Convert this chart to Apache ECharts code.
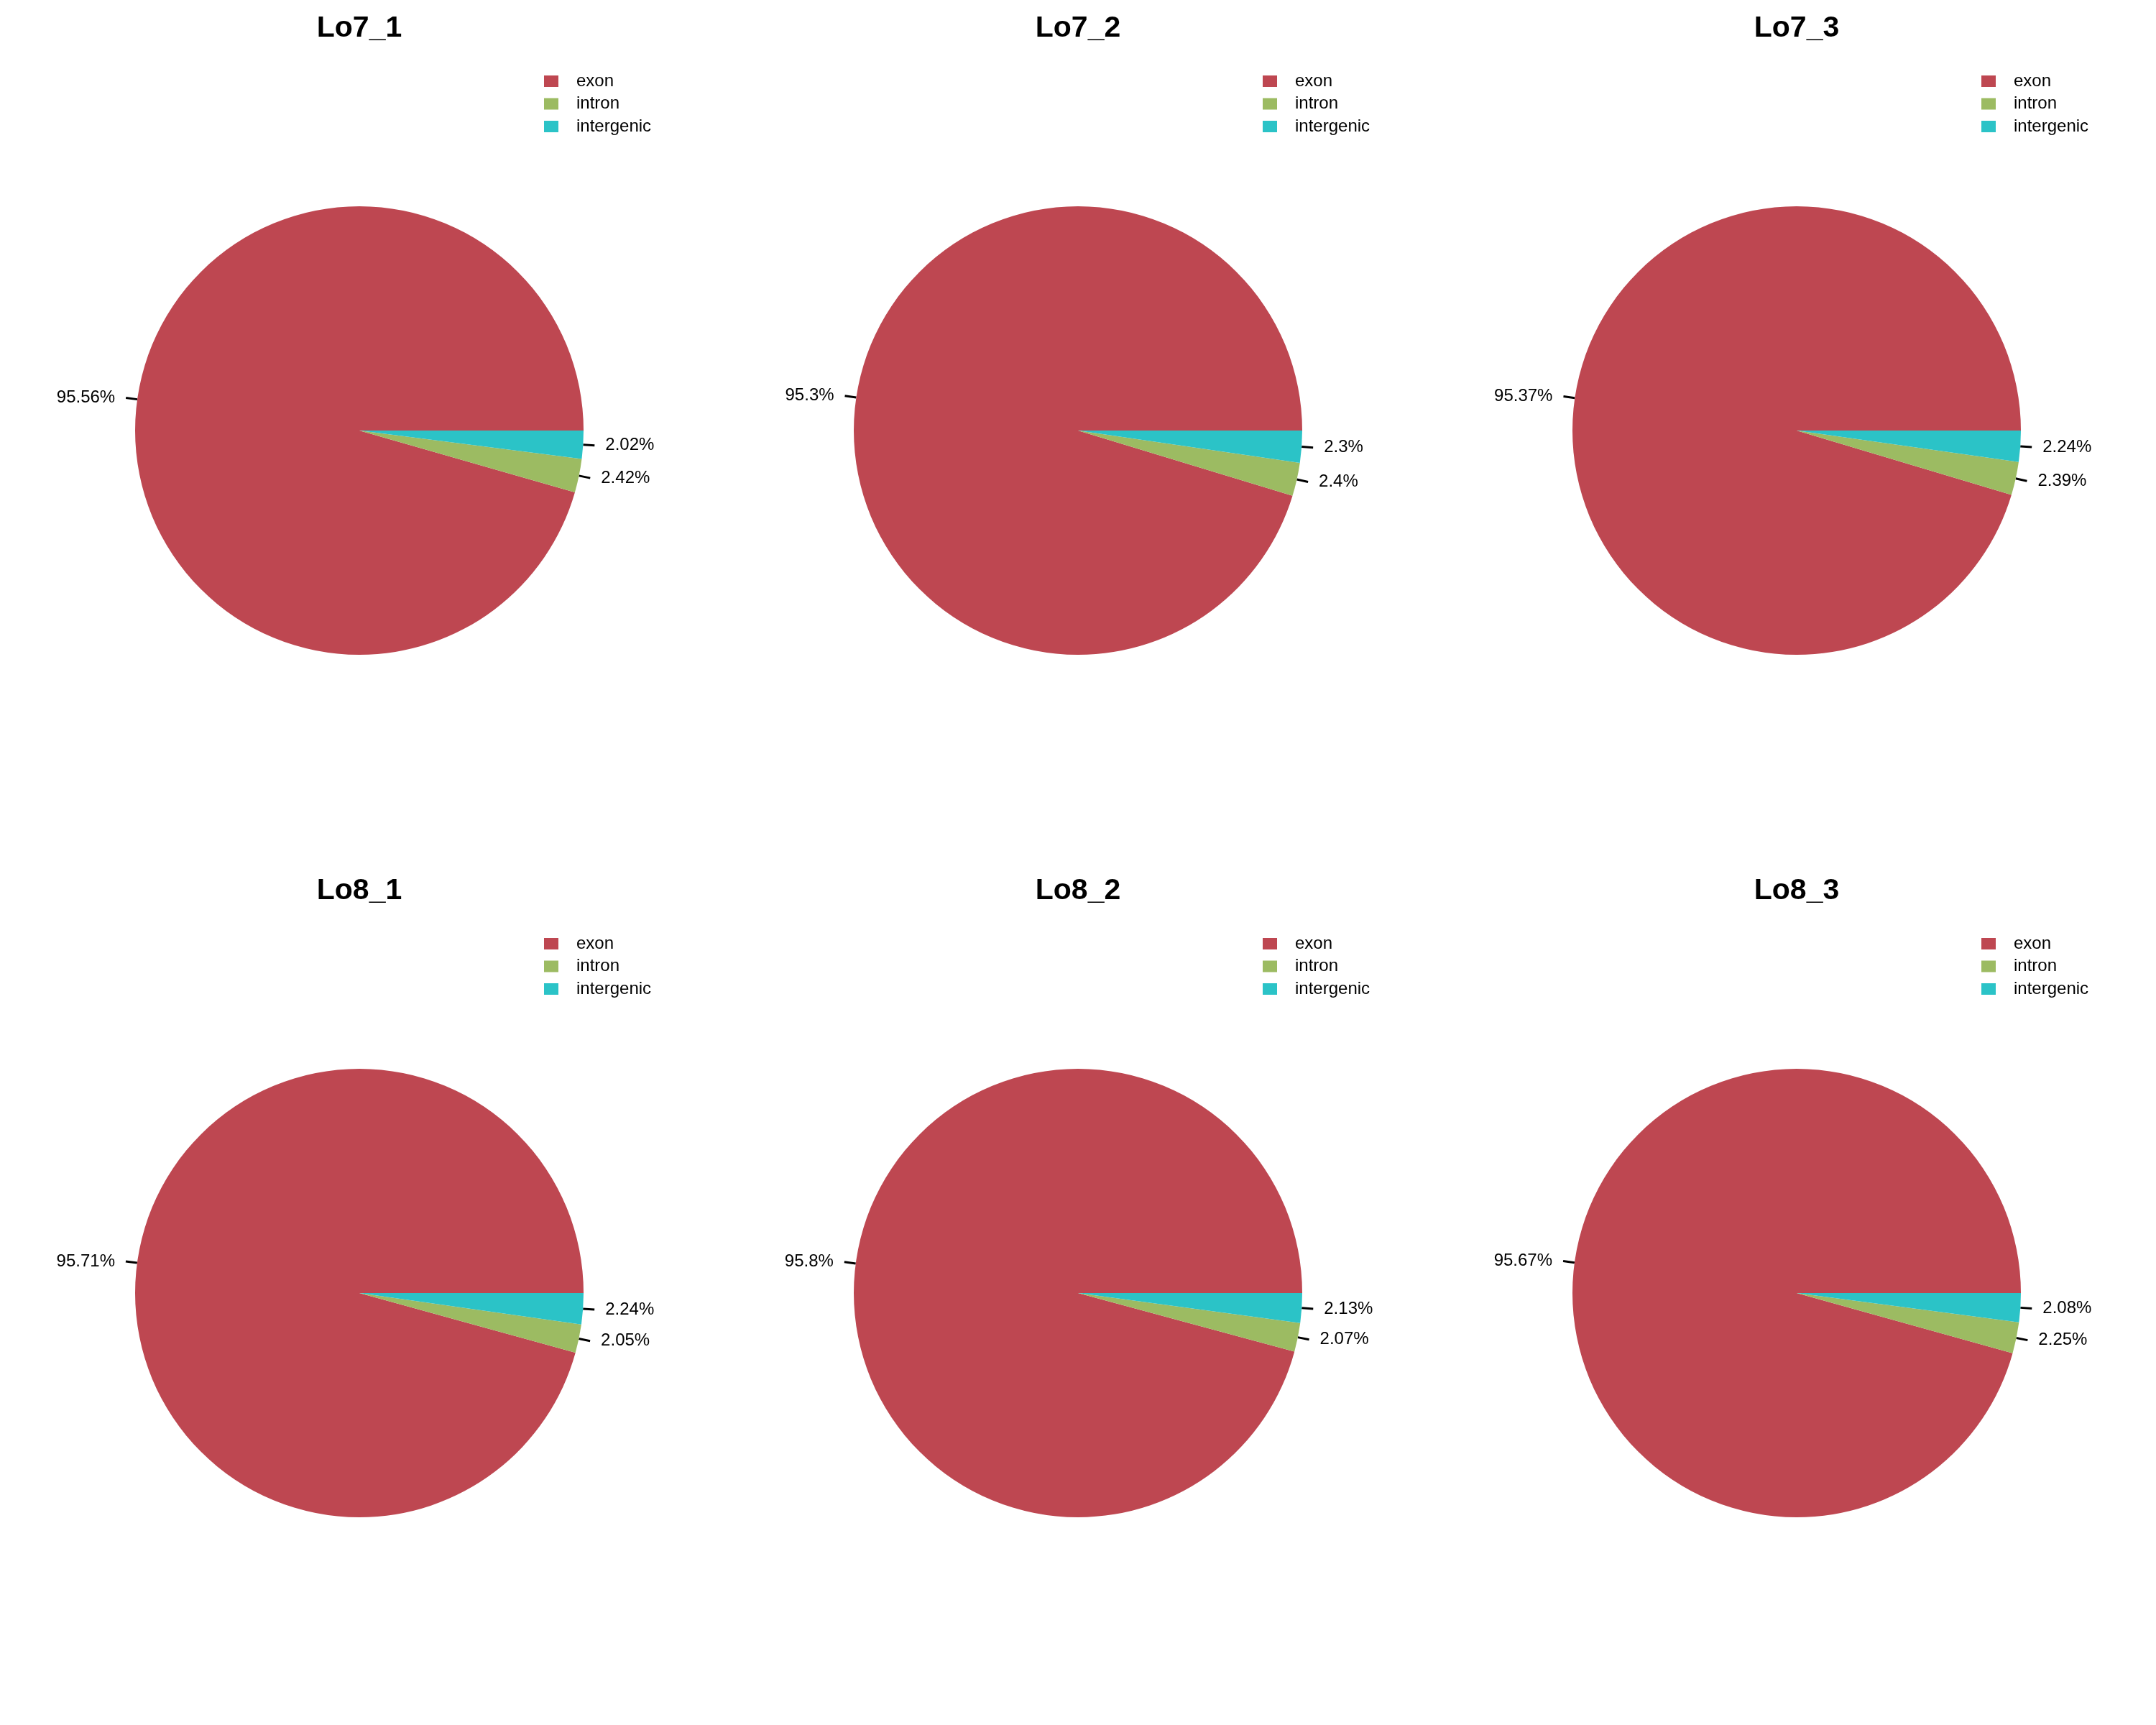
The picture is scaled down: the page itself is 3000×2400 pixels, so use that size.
<!DOCTYPE html>
<html>
<head>
<meta charset="utf-8">
<script src="https://cdn.jsdelivr.net/npm/echarts@6/dist/echarts.min.js"></script>
<style>
  html, body { margin: 0; padding: 0; background: #ffffff; }
  #chart { width: 3000px; height: 2400px; }
</style>
</head>
<body>
<div id="chart"></div>
<script>
// ---- data ----
const samples = ['Lo7_1', 'Lo7_2', 'Lo7_3', 'Lo8_1', 'Lo8_2', 'Lo8_3'];
const categories = ['exon', 'intron', 'intergenic'];
const exonPct = [95.56, 95.3, 95.37, 95.71, 95.8, 95.67];
const intronPct = [2.42, 2.4, 2.39, 2.05, 2.07, 2.25];
const intergenicPct = [2.02, 2.3, 2.24, 2.24, 2.13, 2.08];

// ---- styling / layout ----
const colors = ['#BE4751', '#9CBB62', '#2BC3C7'];
const FONT = '"Liberation Sans", Arial, Helvetica, sans-serif';
const colCenters = [500, 1500, 2500];
const rowCenters = [599, 1799];
const radius = 312;

const chart = echarts.init(document.getElementById('chart'), null, { renderer: 'canvas' });

const titles = [];
const legends = [];
const series = [];

samples.forEach((name, i) => {
  const cx = colCenters[i % 3];
  const cy = rowCenters[Math.floor(i / 3)];
  const rowTop = cy - 599;

  titles.push({
    text: name,
    left: cx,
    top: rowTop + 19,
    textAlign: 'center',
    padding: 0,
    textStyle: { fontFamily: FONT, fontSize: 41, fontWeight: 'bold', color: '#000' }
  });

  legends.push({
    data: categories,
    orient: 'vertical',
    left: cx + 257,
    top: rowTop + 101,
    padding: 0,
    icon: 'rect',
    itemWidth: 20,
    itemHeight: 16,
    itemGap: 7.5,
    selectedMode: false,
    textStyle: { fontFamily: FONT, fontSize: 24, color: '#000', lineHeight: 24, padding: [0, 0, 0, 20] }
  });

  const vals = [exonPct[i], intronPct[i], intergenicPct[i]];
  series.push({
    type: 'pie',
    name: name,
    center: [cx, cy],
    radius: radius,
    startAngle: 0,
    clockwise: false,
    avoidLabelOverlap: false,
    silent: true,
    animation: false,
    itemStyle: { borderWidth: 0 },
    emphasis: { disabled: true },
    label: {
      show: true,
      position: 'outside',
      formatter: '{c}%',
      fontFamily: FONT,
      fontSize: 24,
      color: '#000',
      distanceToLabelLine: 15
    },
    labelLine: {
      show: true,
      length: 16,
      length2: 0,
      smooth: false,
      lineStyle: { color: '#000', width: 3 }
    },
    data: categories.map((c, k) => ({ name: c, value: vals[k], itemStyle: { color: colors[k] } }))
  });
});

chart.setOption({
  backgroundColor: '#ffffff',
  animation: false,
  color: colors,
  title: titles,
  legend: legends,
  series: series
});
</script>
</body>
</html>
